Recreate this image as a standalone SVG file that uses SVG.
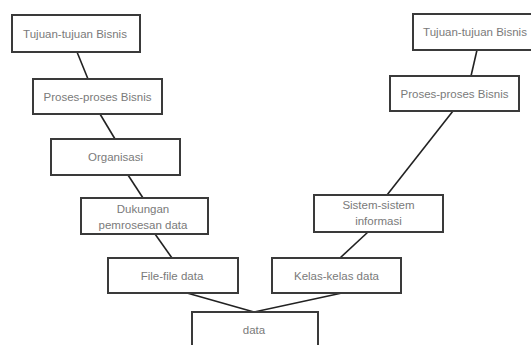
<svg xmlns="http://www.w3.org/2000/svg" width="531" height="345" viewBox="0 0 531 345">
  <style>
    .box { fill: #ffffff; stroke: #3a3a3a; stroke-width: 2; }
    .lbl { font-family: "Liberation Sans", Arial, sans-serif; font-size: 11.5px; fill: #7a7a7a; text-anchor: middle; }
    .edge { stroke: #222222; stroke-width: 1.6; fill: none; }
  </style>
  <rect width="531" height="345" fill="#ffffff"/>

  <g id="connectors">
    <line class="edge" x1="77" y1="52" x2="88" y2="79"/>
    <line class="edge" x1="100" y1="114" x2="115" y2="139"/>
    <line class="edge" x1="128" y1="175" x2="143" y2="198"/>
    <line class="edge" x1="155" y1="234" x2="172" y2="258"/>
    <line class="edge" x1="187" y1="293" x2="254" y2="312"/>
    <line class="edge" x1="342" y1="293" x2="254" y2="312"/>
    <line class="edge" x1="340" y1="258" x2="368" y2="232"/>
    <line class="edge" x1="387" y1="195" x2="453" y2="111"/>
    <line class="edge" x1="471" y1="76" x2="477" y2="50"/>
  </g>

  <g id="tujuan-left">
    <rect class="box" x="12" y="15" width="128" height="37"/>
    <text class="lbl" x="75" y="38">Tujuan-tujuan Bisnis</text>
  </g>
  <g id="proses-left">
    <rect class="box" x="33" y="79" width="129" height="35"/>
    <text class="lbl" x="97.5" y="101">Proses-proses Bisnis</text>
  </g>
  <g id="organisasi">
    <rect class="box" x="51" y="139" width="129" height="36"/>
    <text class="lbl" x="115.5" y="161">Organisasi</text>
  </g>
  <g id="dukungan">
    <rect class="box" x="81" y="198" width="127" height="36"/>
    <text class="lbl" x="143" y="213">Dukungan</text>
    <text class="lbl" x="143" y="229">pemrosesan data</text>
  </g>
  <g id="file-data">
    <rect class="box" x="108" y="258" width="130" height="35"/>
    <text class="lbl" x="172" y="280">File-file data</text>
  </g>
  <g id="kelas-data">
    <rect class="box" x="272" y="258" width="129" height="35"/>
    <text class="lbl" x="336.5" y="280">Kelas-kelas data</text>
  </g>
  <g id="data">
    <rect class="box" x="192" y="312" width="126" height="40"/>
    <text class="lbl" x="254" y="334">data</text>
  </g>
  <g id="sistem-informasi">
    <rect class="box" x="314" y="195" width="129" height="37"/>
    <text class="lbl" x="378.5" y="209">Sistem-sistem</text>
    <text class="lbl" x="378.5" y="225">informasi</text>
  </g>
  <g id="proses-right">
    <rect class="box" x="390" y="76" width="129" height="35"/>
    <text class="lbl" x="454.5" y="98">Proses-proses Bisnis</text>
  </g>
  <g id="tujuan-right">
    <rect class="box" x="413" y="14" width="130" height="36"/>
    <text class="lbl" x="475" y="36">Tujuan-tujuan Bisnis</text>
  </g>
</svg>
